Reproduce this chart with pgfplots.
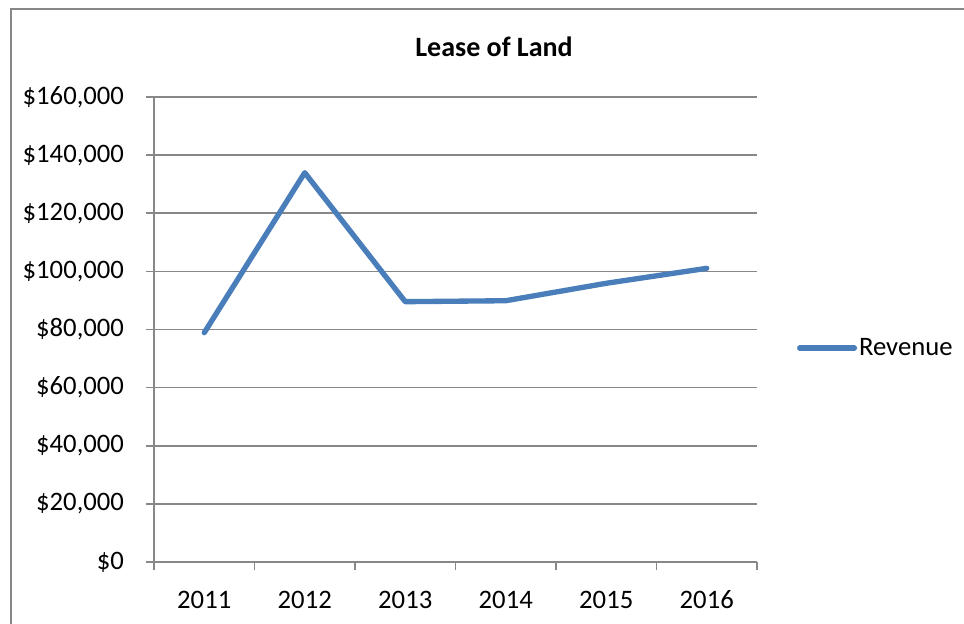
\documentclass[border=0pt]{standalone}
\usepackage{pgfplots}
\pgfplotsset{compat=1.18}
\usepackage{fontspec}
\setmainfont{Carlito}
\definecolor{linecol}{HTML}{4A7EBB}
\definecolor{gridcol}{HTML}{878787}
\begin{document}
\begin{tikzpicture}
\useasboundingbox (0pt,0pt) rectangle (723pt,468pt);
\draw[gridcol, line width=1.5pt] (8.25pt,0pt) -- (8.25pt,461.6pt) -- (723pt,461.6pt);
\node[anchor=base, font=\fontsize{21}{25}\selectfont\bfseries] at (370.5pt,425.25pt) {Lease of Land};
\begin{axis}[
  at={(115.5pt,46.5pt)}, anchor=south west,
  scale only axis, width=452.25pt, height=348.75pt,
  xmin=-0.5, xmax=5.5, ymin=0, ymax=160000,
  axis x line*=bottom, axis y line*=left,
  axis line style={gridcol, line width=1.3pt, -},
  xtick={0,1,2,3,4,5},
  xticklabels={2011,2012,2013,2014,2015,2016},
  minor xtick={-0.5,0.5,1.5,2.5,3.5,4.5,5.5},
  major x tick style={draw=none},
  minor x tick style={gridcol, line width=1.3pt},
  minor tick length=6pt,
  ytick={0,20000,40000,60000,80000,100000,120000,140000,160000},
  major y tick style={gridcol, line width=1.3pt},
  major tick length=6pt,
  tick align=outside,
  ymajorgrids, grid style={gridcol, line width=1.3pt},
  scaled y ticks=false,
  /pgf/number format/.cd, fixed, precision=0, 1000 sep={,}, assume math mode=true,
  /pgfplots/.cd,
  yticklabel={\$\pgfmathprintnumber{\tick}},
  ticklabel style={font=\fontsize{20}{24}\selectfont},
  yticklabel style={xshift=-13pt},
  xticklabel style={yshift=-12pt, text height=13pt},
  legend style={at={(1.066,0.46)}, anchor=west, draw=none, fill=none, inner sep=0pt,
    font=\fontsize{20}{24}\selectfont, nodes={inner sep=1.5pt}},
  legend image code/.code={\draw[#1, line cap=round] (0pt,0pt) -- (41pt,0pt);},
]
\addplot[linecol, line width=4pt, line join=round, line cap=round] coordinates {
  (0,78900) (1,133950) (2,89570) (3,89900) (4,95900) (5,101050)
};
\addlegendentry{Revenue}
\end{axis}
\end{tikzpicture}
\end{document}
